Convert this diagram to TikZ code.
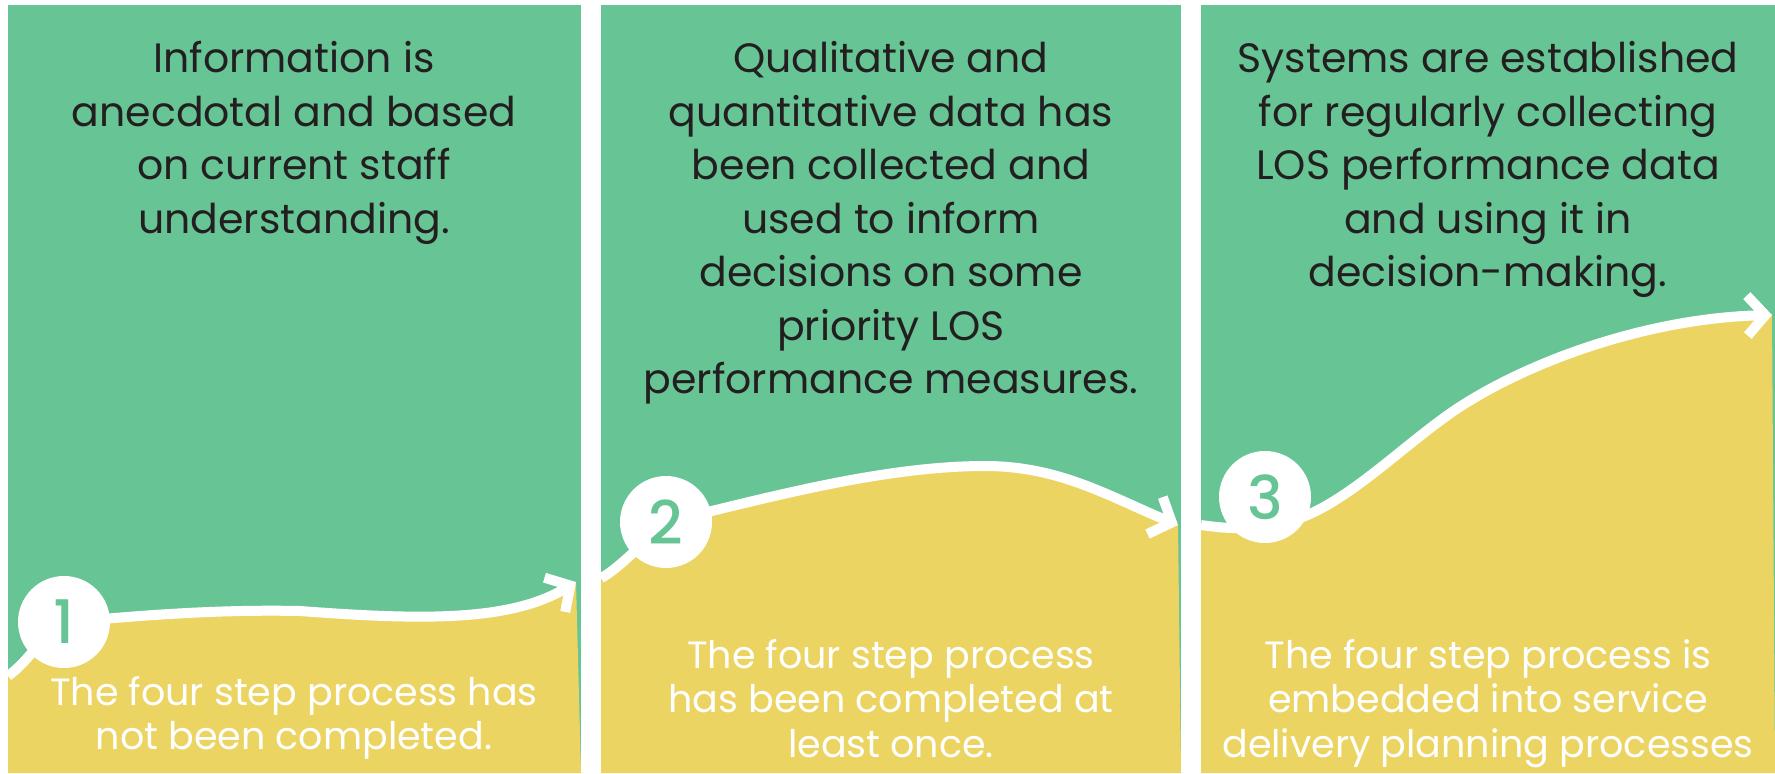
\documentclass[tikz,border=0pt]{standalone}
\usepackage{fontspec}
\setmainfont{Poppins}
\IfFontExistsTF{Poppins Medium}{\newfontfamily\stepfont{Poppins Medium}}{\newfontfamily\stepfont{Poppins}}
\usetikzlibrary{arrows.meta}
\definecolor{leaf}{HTML}{66C495}
\definecolor{sand}{HTML}{ECD462}
\definecolor{ink}{HTML}{231F20}
\tikzset{
  panel/.style={fill=leaf},
  ground/.style={fill=sand},
  wave/.style={white,line width=5pt,-{Straight Barb[length=9pt,width=20pt]}},
  stepnum/.style={circle,fill=white,minimum size=46pt,inner sep=0pt,text=leaf,font=\stepfont\fontsize{30}{30}\selectfont},
  toptext/.style={text=ink,align=center,anchor=north,inner sep=0pt,font=\fontsize{20.5}{26.75}\selectfont},
  bottext/.style={text=white,align=center,anchor=north,inner sep=0pt,font=\fontsize{19}{22.2}\selectfont}
}
\begin{document}
\begin{tikzpicture}[x=0.5pt,y=-0.5pt]
\useasboundingbox (0,0) rectangle (1775,774);
% panel 1
\begin{scope}
\clip (8,5) rectangle (581,773);
\fill[panel] (8,5) rectangle (581,773);
\coordinate (s1) at (8,676);
\coordinate (c1) at (64,622);
\coordinate (m1) at (300,611);
\coordinate (e1) at (576,582);
\fill[ground] (s1) .. controls (30,660) and (45,632) .. (c1) .. controls (120,618) and (200,609) .. (m1) .. controls (420,620) and (510,622) .. (e1) -- (581,773) -- (8,773) -- cycle;
\draw[wave] (s1) .. controls (30,660) and (45,632) .. (c1) .. controls (120,618) and (200,609) .. (m1) .. controls (420,620) and (510,622) .. (e1);
\end{scope}
% panel 2
\begin{scope}
\clip (601,5) rectangle (1181,773);
\fill[panel] (601,5) rectangle (1181,773);
\coordinate (s2) at (601,578);
\coordinate (c2) at (666,522);
\coordinate (m2) at (985,466);
\coordinate (e2) at (1178,525);
\fill[ground] (s2) .. controls (620,568) and (645,540) .. (c2) .. controls (760,500) and (880,466) .. (m2) .. controls (1060,466) and (1110,497) .. (e2) -- (1181,773) -- (601,773) -- cycle;
\draw[wave] (s2) .. controls (620,568) and (645,540) .. (c2) .. controls (760,500) and (880,466) .. (m2) .. controls (1060,466) and (1110,497) .. (e2);
\end{scope}
% panel 3
\begin{scope}
\clip (1201,5) rectangle (1775,773);
\fill[panel] (1201,5) rectangle (1775,773);
\coordinate (s3) at (1201,525);
\coordinate (d3) at (1300,518);
\coordinate (m3) at (1455,410);
\coordinate (e3) at (1772,315);
\fill[ground] (s3) .. controls (1235,530) and (1265,530) .. (d3) .. controls (1350,500) and (1405,444) .. (m3) .. controls (1530,360) and (1650,318) .. (e3) -- (1775,773) -- (1201,773) -- cycle;
\draw[wave] (s3) .. controls (1235,530) and (1265,530) .. (d3) .. controls (1350,500) and (1405,444) .. (m3) .. controls (1530,360) and (1650,318) .. (e3);
\end{scope}
% step numbers
\node[stepnum] (n1) at (c1) {1};
\node[stepnum] (n2) at (c2) {2};
\node[stepnum] (n3) at (1265,497) {3};
% texts
\node[toptext] (t1) at (294,41) {Information is\\anecdotal and based\\on current staff\\understanding.};
\node[toptext] (t2) at (891,41) {Qualitative and\\quantitative data has\\been collected and\\used to inform\\decisions on some\\priority LOS\\performance measures.};
\node[toptext] (t3) at (1488,41) {Systems are established\\for regularly collecting\\LOS performance data\\and using it in\\decision-making.};
\node[bottext] (b1) at (294,676) {The four step process has\\not been completed.};
\node[bottext] (b2) at (891,639) {The four step process\\has been completed at\\least once.};
\node[bottext] (b3) at (1488,639) {The four step process is\\embedded into service\\delivery planning processes};
\end{tikzpicture}
\end{document}
